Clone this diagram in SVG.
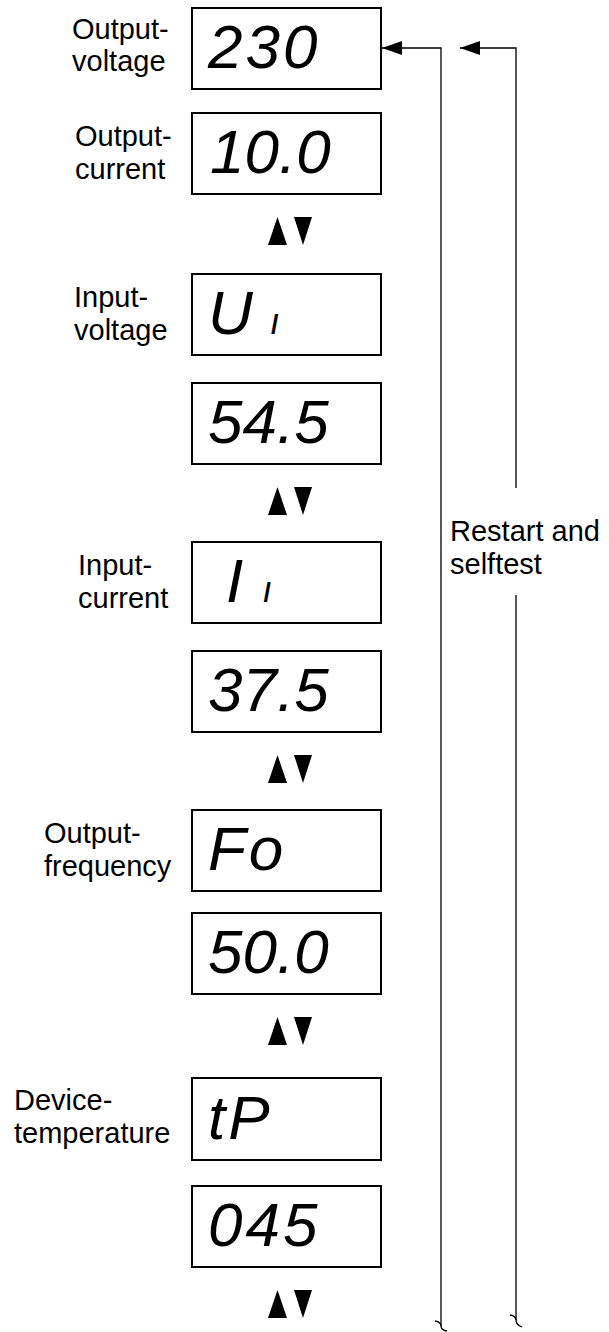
<svg xmlns="http://www.w3.org/2000/svg" width="609" height="1332" viewBox="0 0 609 1332">
<style>
.box{fill:#fff;stroke:#000;stroke-width:2}
.lbl{font-family:"Liberation Sans",Arial,sans-serif;font-size:29px;fill:#000}
.seg{font-family:"Liberation Sans",Arial,sans-serif;font-size:62px;font-style:italic;fill:#000;letter-spacing:3px}
.dec{letter-spacing:0px}
.ln{fill:none;stroke:#000;stroke-width:1.3}
.tri{fill:#000}
</style>
<defs>
<marker id="ah" markerWidth="20" markerHeight="14" refX="20" refY="7" orient="auto" markerUnits="userSpaceOnUse">
<path d="M0,0 L20,7 L0,14 Z" fill="#000"/>
</marker>
<g id="updown">
<polygon class="tri" points="268,28 277.5,0 287,28"/>
<polygon class="tri" points="294,0 312,0 303,28"/>
</g>
</defs>

<g id="n1">
<text class="lbl" x="72" y="39">Output-</text>
<text class="lbl" x="72" y="71">voltage</text>
<rect class="box" x="192" y="8" width="189" height="81"/>
<text class="seg" x="208" y="68">230</text>
</g>
<g id="n2">
<text class="lbl" x="75" y="146">Output-</text>
<text class="lbl" x="75" y="179">current</text>
<rect class="box" x="192" y="113" width="189" height="81"/>
<text class="seg dec" x="210" y="173">10.0</text>
</g>
<g id="n3">
<text class="lbl" x="74" y="307">Input-</text>
<text class="lbl" x="74" y="340">voltage</text>
<rect class="box" x="192" y="274" width="189" height="81"/>
<text class="seg" x="208" y="334">U<tspan dx="14" font-size="36">ı</tspan></text>
</g>
<g id="n4">
<rect class="box" x="192" y="383" width="189" height="81"/>
<text class="seg dec" x="208" y="443">54.5</text>
</g>
<g id="n5">
<text class="lbl" x="78" y="575">Input-</text>
<text class="lbl" x="78" y="608">current</text>
<rect class="box" x="192" y="542" width="189" height="81"/>
<text class="seg" x="226" y="602">I<tspan dx="16" font-size="36">ı</tspan></text>
</g>
<g id="n6">
<rect class="box" x="192" y="651" width="189" height="81"/>
<text class="seg dec" x="208" y="711">37.5</text>
</g>
<g id="n7">
<text class="lbl" x="44" y="843">Output-</text>
<text class="lbl" x="44" y="876">frequency</text>
<rect class="box" x="192" y="810" width="189" height="81"/>
<text class="seg" x="208" y="870">Fo</text>
</g>
<g id="n8">
<rect class="box" x="192" y="913" width="189" height="81"/>
<text class="seg dec" x="208" y="973">50.0</text>
</g>
<g id="n9">
<text class="lbl" x="14" y="1110">Device-</text>
<text class="lbl" x="14" y="1143">temperature</text>
<rect class="box" x="192" y="1078" width="189" height="82"/>
<text class="seg" x="208" y="1139">tP</text>
</g>
<g id="n10">
<rect class="box" x="192" y="1186" width="189" height="81"/>
<text class="seg" x="208" y="1246">045</text>
</g>

<g id="arrows-updown">
<use href="#updown" y="217"/>
<use href="#updown" y="487"/>
<use href="#updown" y="755"/>
<use href="#updown" y="1017"/>
<use href="#updown" y="1290"/>
</g>

<g id="connectors">
<path class="ln" d="M441,1326 L441,48 L382,48" marker-end="url(#ah)"/>
<path class="ln" d="M435,1321 Q441,1322 441,1326 Q441,1330 447,1331"/>
<path class="ln" d="M516,488 L516,48 L460,48" marker-end="url(#ah)"/>
<path class="ln" d="M516,1320 L516,595"/>
<path class="ln" d="M510,1315 Q516,1316 516,1320 Q516,1325 522,1327"/>
</g>
<g id="label-restart">
<text class="lbl" x="450" y="541">Restart and</text>
<text class="lbl" x="450" y="574">selftest</text>
</g>
</svg>
